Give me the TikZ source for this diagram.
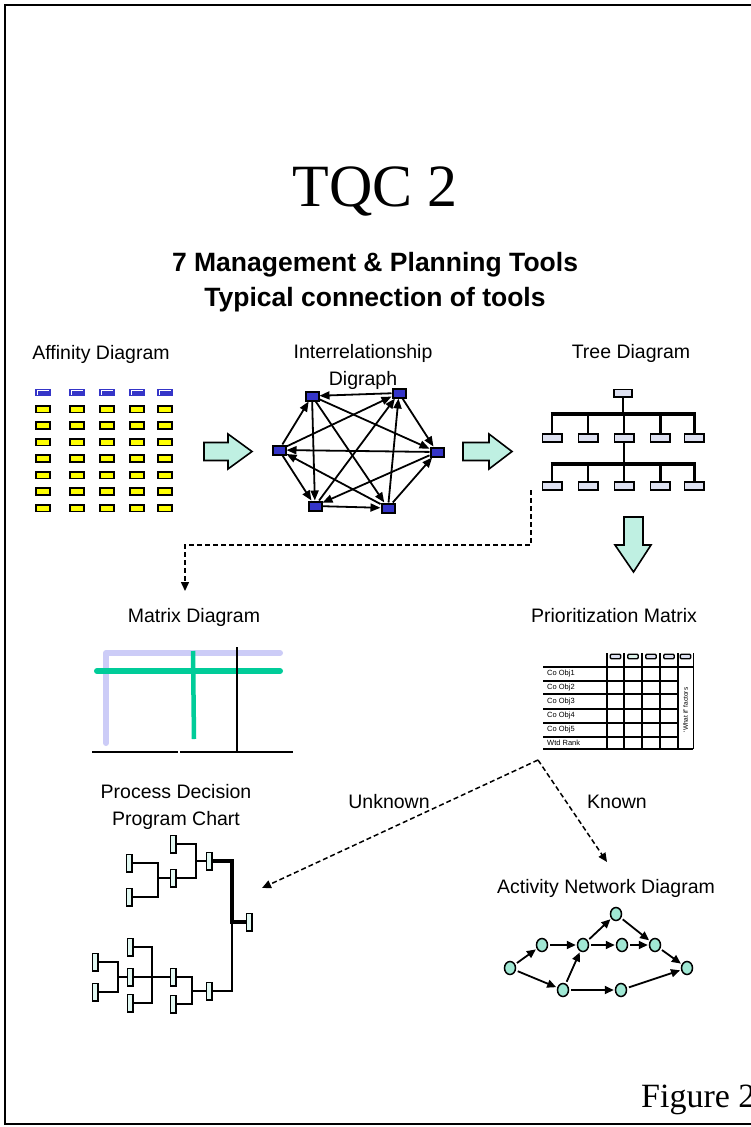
\documentclass[tikz,border=0pt]{standalone}
\usepackage{fontspec}
\setmainfont{Liberation Sans}
\newfontfamily\seriffont{Liberation Serif}
\usetikzlibrary{arrows.meta,shapes.geometric,calc}
\definecolor{affyel}{HTML}{FFFF00}
\definecolor{affblue}{HTML}{3535C8}
\definecolor{mint}{HTML}{BFF0E2}
\definecolor{treebox}{HTML}{DDE0F0}
\definecolor{lav}{HTML}{CCCCF7}
\definecolor{mgreen}{HTML}{00CC99}
\definecolor{pdbox}{HTML}{E2F8F2}
\definecolor{anbox}{HTML}{A0E8D4}
\definecolor{hdrgreen}{HTML}{DDF2EA}
\begin{document}
\begin{tikzpicture}[x=1pt,y=-1pt,
  lbl/.style={font=\fontsize{19.5}{22}\selectfont, inner sep=0, anchor=base},
  ybox/.style={draw=black, line width=1.6, fill=affyel, minimum width=14.4, minimum height=6.6, inner sep=0},
  bbox/.style={fill=affblue, minimum width=16, minimum height=7, inner sep=0},
  dnode/.style={draw=black, line width=2, fill=affblue, minimum width=13, minimum height=9, inner sep=0},
  darr/.style={line width=1.8, -{Triangle[length=10pt,width=8pt]}},
  tbox/.style={draw, line width=1.6, fill=treebox, minimum width=19.4, minimum height=8.4, inner sep=0},
  blockarrow/.style={draw, line width=1.6, fill=mint, line join=miter},
  pbox/.style={draw, line width=1.4, fill=pdbox, minimum width=5.6, minimum height=17.6, inner sep=0},
  pline/.style={line width=1.8},
  anode/.style={ellipse, draw, line width=1.5, fill=anbox, minimum width=11, minimum height=13, inner sep=0},
  aarr/.style={line width=1.8, -{Triangle[length=9pt,width=8pt]}, shorten <=2pt, shorten >=1pt},
  dasharr/.style={line width=1.5, dash pattern=on 5pt off 3pt, -{Triangle[length=9pt,width=8pt]}},
  hbox/.style={draw, line width=1.4, rounded corners=1.2pt, minimum width=10.5, minimum height=4.5, inner sep=0},
  rowlbl/.style={font=\fontsize{7.5}{8}\selectfont, inner sep=0, anchor=west}
]
\useasboundingbox (0,0) rectangle (751,1127);
\fill[white] (0,0) rectangle (751,1127);
% frame (right side lies beyond the picture)
\draw[line width=2] (760,5) -- (5,5) -- (5,1124) -- (760,1124);

% titles
\node[font=\seriffont\fontsize{60}{66}\selectfont, inner sep=0, anchor=base] (title) at (375,206) {TQC 2};
\node[font=\bfseries\fontsize{26.5}{30}\selectfont, inner sep=0, anchor=base] (sub1) at (375,271) {7 Management \& Planning Tools};
\node[font=\bfseries\fontsize{26.5}{30}\selectfont, inner sep=0, anchor=base] (sub2) at (375,306) {Typical connection of tools};

% labels
\node[lbl] (l-aff) at (101,359) {Affinity Diagram};
\node[lbl] (l-int) at (363,358) {Interrelationship};
\node[lbl] (l-dig) at (363,385) {Digraph};
\node[lbl] (l-tree) at (631,358) {Tree Diagram};
\node[lbl] (l-mat) at (194,622) {Matrix Diagram};
\node[lbl] (l-pri) at (614,622) {Prioritization Matrix};
\node[lbl] (l-pd1) at (176,798) {Process Decision};
\node[lbl] (l-pd2) at (176,825) {Program Chart};
\node[lbl] (l-unk) at (389,808) {Unknown};
\node[lbl] (l-kn) at (617,808) {Known};
\node[lbl] (l-act) at (606,893) {Activity Network Diagram};
\node[font=\seriffont\fontsize{34}{38}\selectfont, inner sep=0, anchor=base west] (fig) at (641,1107) {Figure 2};

% affinity diagram
\foreach \c/\x in {1/43,2/77,3/107,4/137,5/165} {
  \node[bbox] (ab\c) at (\x,392) {};
  \draw[white, line width=0.8] (\x-5.5,394.5) -- (\x-5.5,390.5) -- (\x+6,390.5);
  \foreach \r in {0,...,6} {
    \node[ybox] (ay\c-\r) at (\x,409+16.5*\r) {};
  }
}

% block arrows
\draw[blockarrow] (204,442.5) -- (228,442.5) -- (228,434) -- (252,451.5) -- (228,469) -- (228,460.5) -- (204,460.5) -- cycle;
\draw[blockarrow] (463,442.5) -- (489,442.5) -- (489,434) -- (512,451.5) -- (489,469) -- (489,460.5) -- (463,460.5) -- cycle;
\draw[blockarrow] (624,517) -- (643,517) -- (643,545) -- (651,545) -- (633.5,572) -- (615,545) -- (624,545) -- cycle;

% interrelationship digraph
\node[dnode] (n1) at (312,396) {};
\node[dnode] (n2) at (399,393) {};
\node[dnode] (n3) at (437,452) {};
\node[dnode] (n4) at (279,450) {};
\node[dnode] (n5) at (315,506) {};
\node[dnode] (n6) at (388,508) {};
\foreach \a/\b in {n2/n1,n4/n1,n1/n3,n2/n3,n4/n2,n5/n2,n6/n2,n1/n5,n1/n6,n3/n4,n6/n4,n4/n5,n3/n5,n5/n6,n6/n3} {
  \draw[darr] (\a) -- (\b);
}

% tree diagram
\node[tbox, minimum width=18.4, minimum height=7.4] (t0) at (623,393) {};
\foreach \i/\x in {1/552,2/588,3/624,4/660,5/694} {
  \node[tbox] (t1-\i) at (\x,438) {};
  \node[tbox] (t2-\i) at (\x,486) {};
}
\draw[line width=1.6] (t0.south) -- (623,414);
\draw[line width=3.5] (550.5,414) -- (695.5,414);
\draw[line width=1.6] (t1-3.south) -- (624,464);
\draw[line width=3.5] (550.5,464) -- (695.5,464);
\foreach \i/\x in {1/552,2/588,3/624} {
  \draw[line width=1.6] (\x,414) -- (t1-\i.north);
  \draw[line width=1.6] (\x,464) -- (t2-\i.north);
}
\foreach \i/\x in {4/660,5/694} {
  \draw[line width=3] (\x,414) -- (t1-\i.north);
  \draw[line width=3] (\x,464) -- (t2-\i.north);
}

% tree -> matrix dashed connector
\coordinate (tm-start) at (531,490);
\coordinate (tm-c1) at (531,545);
\coordinate (tm-c2) at (185,545);
\coordinate (tm-end) at (185,591);
\draw[dasharr] (tm-start) -- (tm-c1) -- (tm-c2) -- (tm-end);

% matrix diagram
\draw[lav, line width=6, line cap=round, line join=round] (106,743) -- (106,653) -- (280,653);
\draw[mgreen, line width=6, line cap=round] (97,671) -- (280,671);
\draw[mgreen, line width=4.5] (193,651) -- (194,739);
\draw[line width=1.5] (237,647) -- (237,752);
\draw[line width=1.5] (92,752) -- (178,752);
\draw[line width=1.5] (180,752) -- (293,752);

% prioritization matrix
\draw[line width=1.8] (543,667) -- (693,667);
\draw[line width=1.8] (543,749) -- (693,749);
\foreach \y in {681,694,709,723,737} {
  \draw[line width=1.8] (543,\y) -- (678,\y);
}
\foreach \x in {607,624,642,660,678} {
  \draw[line width=1.8] (\x,653) -- (\x,749);
}
\draw[line width=1] (693,653) -- (693,749);
\node[hbox, fill=treebox] (h1) at (615.5,656.5) {};
\node[hbox, fill=hdrgreen] (h2) at (633,656.5) {};
\node[hbox, fill=treebox] (h3) at (651,656.5) {};
\node[hbox, fill=treebox] (h4) at (669,656.5) {};
\node[hbox, fill=treebox] (h5) at (685.5,656.5) {};
\node[rowlbl] (r1) at (547,674) {Co Obj1};
\node[rowlbl] (r2) at (547,687.5) {Co Obj2};
\node[rowlbl] (r3) at (547,701.5) {Co Obj3};
\node[rowlbl] (r4) at (547,716) {Co Obj4};
\node[rowlbl] (r5) at (547,730) {Co Obj5};
\node[rowlbl] (r6) at (547,743) {Wtd Rank};
\node[font=\fontsize{6.5}{7}\selectfont, inner sep=0, rotate=90] (whatif) at (685.5,710) {`What if' factors};

% dashed decision arrows
\coordinate (pm-out) at (538,760);
\coordinate (pd-in) at (262,888);
\coordinate (an-in) at (607,862);
\draw[dasharr] (pm-out) -- (pd-in);
\draw[dasharr] (pm-out) -- (an-in);

% PDPC
\node[pbox] (pA) at (173,844) {};
\node[pbox] (pB) at (209,861) {};
\node[pbox] (pC) at (129,863) {};
\node[pbox] (pD) at (173,878) {};
\node[pbox] (pE) at (129,897) {};
\node[pbox] (pF) at (249,922) {};
\node[pbox] (pG) at (95,962) {};
\node[pbox] (pH) at (95,992) {};
\node[pbox] (pI) at (130,947) {};
\node[pbox] (pJ) at (130,977) {};
\node[pbox] (pK) at (130,1003) {};
\node[pbox] (pL) at (173,977) {};
\node[pbox] (pM) at (173,1004) {};
\node[pbox] (pN) at (209,991) {};
\draw[pline] (pC.east) -- (158,863) -- (158,897) -- (pE.east);
\draw[pline] (158,878) -- (pD.west);
\draw[pline] (pA.east) -- (196,844) -- (196,878) -- (pD.east);
\draw[pline] (196,861) -- (pB.west);
\draw[line width=4, line join=miter] (pB.east) -- (232,861) -- (232,922) -- (pF.west);
\draw[pline] (232,920) -- (232,991) -- (pN.east);
\draw[pline] (pG.east) -- (118,962) -- (118,992) -- (pH.east);
\draw[pline] (118,977) -- (pJ.west);
\draw[pline] (pI.east) -- (152,947) -- (152,1003) -- (pK.east);
\draw[pline] (pJ.east) -- (pL.west);
\draw[pline] (pL.east) -- (192,977) -- (192,1004) -- (pM.east);
\draw[pline] (192,991) -- (pN.west);

% activity network
\node[anode] (c1) at (510,968) {};
\node[anode] (c2) at (542,945) {};
\node[anode] (c3) at (583,945) {};
\node[anode] (c4) at (616,914) {};
\node[anode] (c5) at (622,945) {};
\node[anode] (c6) at (655,945) {};
\node[anode] (c7) at (687,968) {};
\node[anode] (c8) at (563,990) {};
\node[anode] (c9) at (621,990) {};
\foreach \a/\b in {c1/c2,c2/c3,c3/c4,c3/c5,c5/c6,c4/c6,c6/c7,c1/c8,c8/c3,c8/c9,c9/c7} {
  \draw[aarr] (\a) -- (\b);
}
\end{tikzpicture}
\end{document}
